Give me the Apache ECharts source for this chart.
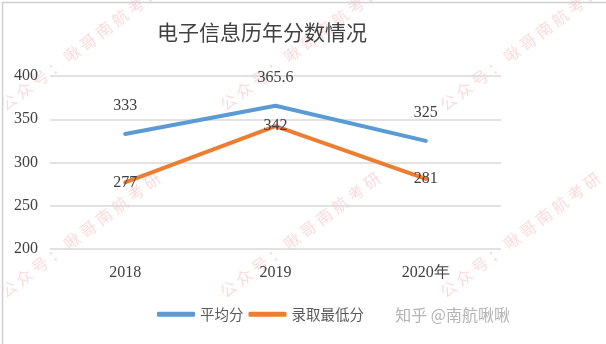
<!DOCTYPE html>
<html>
<head>
<meta charset="utf-8">
<script src="https://cdn.jsdelivr.net/npm/echarts@6/dist/echarts.min.js"></script>
<style>
  html, body { margin: 0; padding: 0; background: #fff; }
  #chart { width: 606px; height: 344px; }
</style>
</head>
<body>
<div id="chart"></div>
<script>
// Years on the category axis
const years = ['2018', '2019', '2020年'];
// Average score per year
const avgScores = [333, 365.6, 325];
// Minimum admission score per year
const minScores = [277, 342, 281];
// Value axis range
const yMin = 200;
const yMax = 400;
const yStep = 50;

const serif = '"Liberation Serif", "DejaVu Serif", serif';
const cjk = '"Noto Sans CJK SC", "Noto Sans", sans-serif';

// Repeated diagonal watermark, characters spread apart with narrow spaces
const markText = Array.from('公众号：啾哥南航考研').join('\u2005');
const markCenters = [[80, 48], [300, 48], [520, 48], [80, 235], [300, 235], [520, 235]];
const watermarks = markCenters.map(([x, y]) => ({
  type: 'text',
  x: x, y: y,
  rotation: 37 * Math.PI / 180,
  z: 0,
  silent: true,
  style: {
    text: markText,
    fill: 'rgba(232, 70, 70, 0.2)',
    font: '16px ' + cjk,
    textAlign: 'center',
    textVerticalAlign: 'middle'
  }
}));

const chart = echarts.init(document.getElementById('chart'), null, { renderer: 'canvas' });
chart.setOption({
  backgroundColor: '#ffffff',
  animation: false,
  title: {
    text: '电子信息历年分数情况',
    left: 152,
    top: 17,
    textStyle: { fontFamily: cjk, fontSize: 21, fontWeight: 'normal', color: '#404040' }
  },
  legend: {
    left: 152,
    top: 302,
    itemWidth: 38,
    itemHeight: 5,
    itemGap: 5,
    icon: 'roundRect',
    textStyle: { fontFamily: cjk, fontSize: 14.5, color: '#595959' },
    data: ['平均分', '录取最低分']
  },
  grid: { left: 50, right: 105, top: 76, bottom: 95 },
  xAxis: {
    type: 'category',
    data: years,
    boundaryGap: true,
    axisLine: { show: false },
    axisTick: { show: false },
    axisLabel: { fontFamily: serif, fontSize: 16, color: '#404040', margin: 16 }
  },
  yAxis: {
    type: 'value',
    min: yMin,
    max: yMax,
    interval: yStep,
    axisLine: { show: false },
    axisTick: { show: false },
    axisLabel: { fontFamily: serif, fontSize: 16, color: '#404040', margin: 12 },
    splitLine: { lineStyle: { color: '#d9d9d9', width: 1.5 } }
  },
  series: [
    {
      name: '平均分',
      type: 'line',
      data: avgScores,
      symbol: 'circle',
      symbolSize: 0.01,
      color: '#5b9bd5',
      lineStyle: { width: 4, color: '#5b9bd5', cap: 'round' },
      label: {
        show: true,
        position: 'top',
        distance: 20,
        fontFamily: serif,
        fontSize: 16,
        color: '#404040'
      },
      z: 3
    },
    {
      name: '录取最低分',
      type: 'line',
      data: minScores,
      symbol: 'circle',
      symbolSize: 0.01,
      color: '#ed7d31',
      lineStyle: { width: 4, color: '#ed7d31', cap: 'round' },
      label: {
        show: true,
        position: 'inside',
        fontFamily: serif,
        fontSize: 16,
        color: '#404040'
      },
      z: 4
    }
  ],
  graphic: [
    ...watermarks,
    {
      type: 'text',
      right: 96,
      top: 307,
      silent: true,
      style: { text: '知乎 @南航啾啾', fill: '#b4b4b4', font: '16px ' + cjk }
    },
    {
      type: 'rect',
      left: 0, top: 0,
      silent: true,
      shape: { x: 0.75, y: 0.75, width: 604.5, height: 342.5 },
      style: { fill: 'none', stroke: '#d0d0d0', lineWidth: 1.5 }
    }
  ]
});
</script>
</body>
</html>
